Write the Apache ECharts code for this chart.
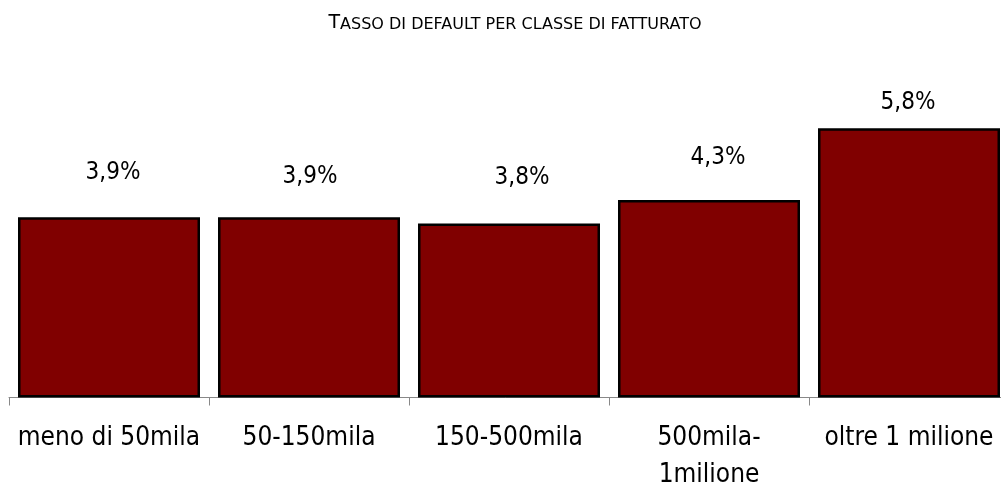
<!DOCTYPE html>
<html>
<head>
<meta charset="utf-8">
<script src="https://cdn.jsdelivr.net/npm/echarts@6/dist/echarts.min.js"></script>
<style>
  html, body { margin: 0; padding: 0; background: #ffffff; }
  #chart { width: 1001px; height: 486px; }
</style>
</head>
<body>
<div id="chart"></div>
<script>
// ---- data ----
const titleText = 'Tasso di default per classe di fatturato';
const categories = ['meno di 50mila', '50-150mila', '150-500mila', '500mila-\n1milione', 'oltre 1 milione'];
const defaultRates = [3.9, 3.9, 3.76, 4.27, 5.82]; // percent

// ---- style (label nudges, px) ----
const labelShift = [[4, 29], [1, 25], [13, 31], [9, 27], [-1, 11]];

const FONT = 'DejaVu Sans Condensed';
const upper = titleText.toUpperCase();

const chart = echarts.init(document.getElementById('chart'), null, { renderer: 'canvas' });
chart.setOption({
  animation: false,
  backgroundColor: '#ffffff',
  title: {
    text: '{big|' + upper.charAt(0) + '}{small|' + upper.slice(1) + '}',
    left: 510,
    top: 6,
    textAlign: 'center',
    textStyle: {
      fontWeight: 'normal',
      rich: {
        big: { fontFamily: 'DejaVu Sans', fontWeight: 'normal', fontSize: 19, color: '#000', verticalAlign: 'bottom', lineHeight: 22 },
        small: { fontFamily: 'DejaVu Sans', fontWeight: 'normal', fontSize: 16, color: '#000', verticalAlign: 'bottom', lineHeight: 22 }
      }
    }
  },
  grid: { left: 9, top: 120, width: 1000, height: 277.5, containLabel: false, outerBoundsMode: 'none' },
  xAxis: {
    type: 'category',
    data: categories,
    boundaryGap: true,
    axisLine: { show: true, lineStyle: { color: '#888888', width: 1 } },
    axisTick: { show: true, length: 8, interval: 0, lineStyle: { color: '#888888', width: 1 } },
    axisLabel: {
      interval: 0,
      margin: 22,
      fontFamily: FONT,
      fontSize: 26,
      lineHeight: 37,
      color: '#000000'
    },
    splitLine: { show: false }
  },
  yAxis: {
    type: 'value',
    min: 0,
    max: 6,
    show: false,
    splitLine: { show: false }
  },
  series: [{
    type: 'bar',
    barWidth: 182,
    data: defaultRates.map((v, i) => ({
      value: v,
      label: { offset: [labelShift[i][0], 0], distance: labelShift[i][1] }
    })),
    itemStyle: { color: '#800000', borderColor: '#000000', borderWidth: 2.5 },
    label: {
      show: true,
      position: 'top',
      fontFamily: FONT,
      fontSize: 24,
      lineHeight: 30,
      color: '#000000',
      formatter: p => p.value.toFixed(1).replace('.', ',') + '%'
    }
  }]
});
</script>
</body>
</html>
